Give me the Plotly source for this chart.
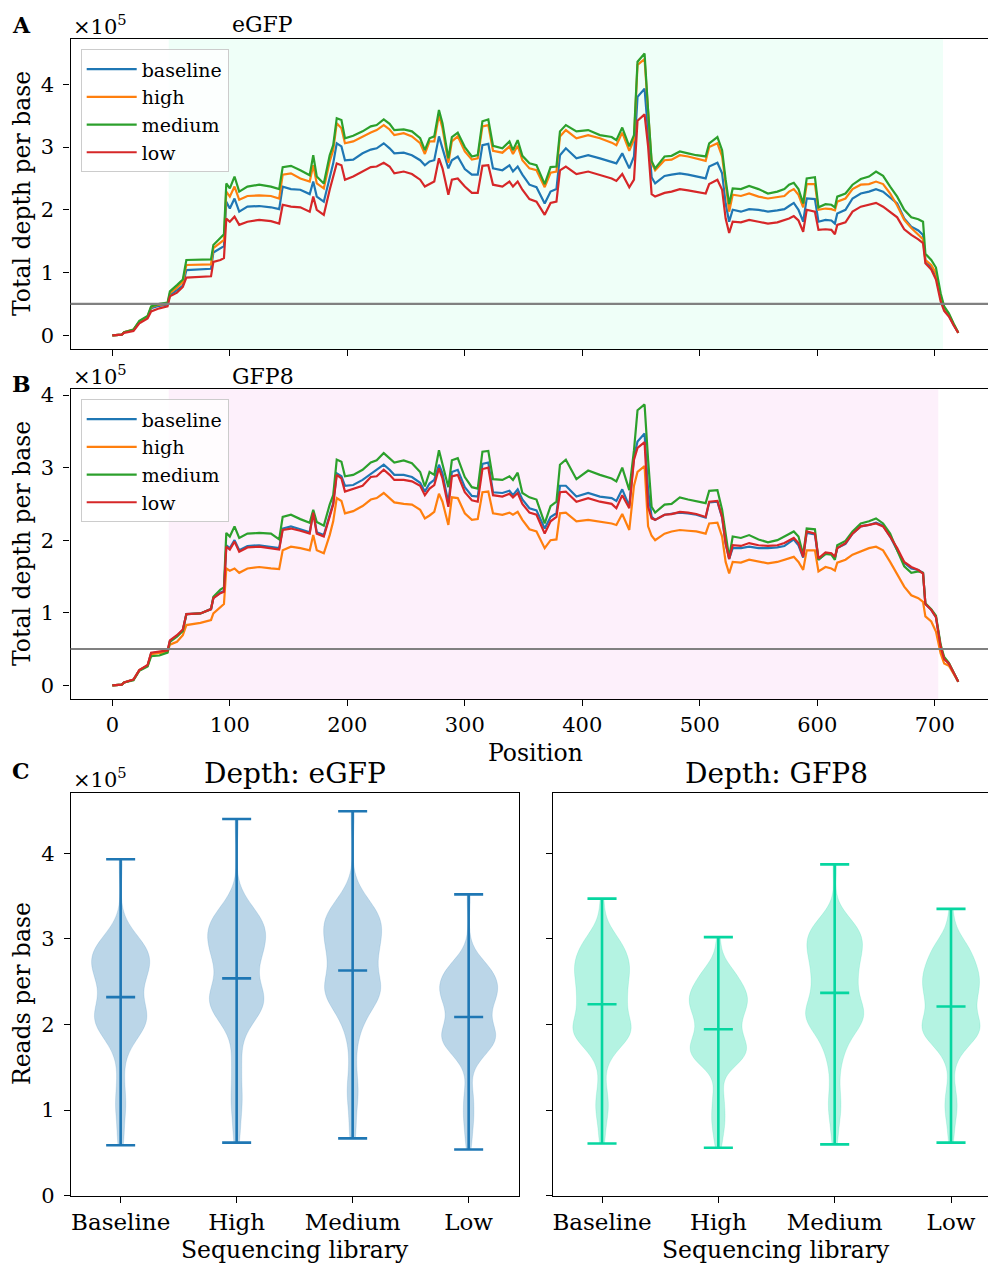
import numpy as np
import plotly.graph_objects as go

# ---------------- data (depth values in units of 1e5 reads) ----------------
POSITIONS = [
    0, 8, 10, 18, 23, 30, 33, 40, 47,
    49, 55, 60, 63, 75, 84, 86, 92, 95, 97,
    100, 104, 108, 115, 125, 135, 142, 145, 152, 160,
    168, 171, 174, 180, 185, 188, 191, 195, 198, 205,
    213, 220, 225, 231, 236, 240, 248, 255, 262, 266,
    270, 274, 278, 281, 286, 289, 294, 300, 306, 311,
    315, 320, 324, 332, 338, 341, 345, 349, 355, 361,
    368, 373, 378, 381, 386, 395, 405, 415, 425, 429,
    434, 440, 444, 447, 453, 456, 459, 462, 470, 476,
    483, 490, 497, 505, 508, 515, 519, 522, 525, 528,
    535, 542, 550, 558, 566, 572, 576, 580, 584, 588,
    591, 598, 601, 607, 612, 615, 617, 624, 630, 637,
    644, 650, 656, 662, 668, 674, 680, 686, 690, 692,
    697, 701, 705, 708, 712, 716, 720]

EGFP_BASELINE = [
    0, 0.01, 0.05, 0.085, 0.21, 0.29, 0.43, 0.47, 0.49,
    0.64, 0.72, 0.79, 1.04, 1.05, 1.06, 1.32, 1.39, 1.42, 2.13,
    2.02, 2.18, 1.97, 2.05, 2.06, 2.04, 2.01, 2.37, 2.33, 2.32,
    2.25, 2.45, 2.21, 2.13, 2.53, 2.74, 3.06, 3.01, 2.79, 2.80,
    2.90, 2.96, 2.98, 3.06, 2.98, 2.90, 2.91, 2.87, 2.79, 2.71,
    2.77, 2.79, 3.17, 2.98, 2.66, 2.79, 2.85, 2.65, 2.56, 2.56,
    3.03, 3.05, 2.66, 2.63, 2.71, 2.61, 2.69, 2.56, 2.40, 2.36,
    2.10, 2.29, 2.33, 2.87, 2.98, 2.82, 2.87, 2.82, 2.77, 2.74,
    2.90, 2.66, 2.85, 3.80, 3.93, 3.27, 2.52, 2.42, 2.54, 2.56,
    2.58, 2.56, 2.53, 2.50, 2.69, 2.75, 2.58, 2.10, 1.81, 2.00,
    1.97, 2.01, 2.00, 1.97, 1.99, 2.01, 2.06, 2.11, 2.00, 1.81,
    2.18, 2.17, 1.81, 1.84, 1.83, 1.78, 1.94, 2.00, 2.18, 2.26,
    2.29, 2.33, 2.29, 2.20, 2.10, 1.86, 1.73, 1.67, 1.60, 1.20,
    1.09, 0.96, 0.59, 0.42, 0.32, 0.17, 0.04]

EGFP_HIGH = [
    0, 0.01, 0.05, 0.09, 0.22, 0.30, 0.45, 0.49, 0.50,
    0.67, 0.76, 0.85, 1.12, 1.13, 1.13, 1.39, 1.48, 1.52, 2.29,
    2.21, 2.37, 2.16, 2.22, 2.23, 2.22, 2.18, 2.56, 2.58, 2.50,
    2.45, 2.71, 2.42, 2.34, 2.77, 2.95, 3.38, 3.30, 3.06, 3.09,
    3.17, 3.23, 3.27, 3.35, 3.28, 3.19, 3.22, 3.17, 3.06, 2.89,
    3.09, 3.09, 3.51, 3.30, 2.75, 3.09, 3.17, 2.93, 2.80, 2.82,
    3.33, 3.35, 2.94, 2.91, 3.01, 2.89, 3.02, 2.79, 2.66, 2.63,
    2.36, 2.59, 2.61, 3.17, 3.27, 3.14, 3.19, 3.14, 3.07, 3.03,
    3.23, 2.94, 3.12, 4.31, 4.40, 3.48, 2.75, 2.63, 2.79, 2.80,
    2.87, 2.85, 2.82, 2.78, 3.00, 3.06, 2.85, 2.37, 1.97, 2.24,
    2.22, 2.26, 2.21, 2.18, 2.20, 2.22, 2.29, 2.33, 2.24, 2.04,
    2.41, 2.41, 2.00, 2.02, 2.01, 1.99, 2.13, 2.18, 2.33, 2.40,
    2.41, 2.45, 2.41, 2.26, 2.07, 1.84, 1.71, 1.61, 1.53, 1.20,
    1.12, 0.99, 0.62, 0.44, 0.33, 0.18, 0.04]

EGFP_MEDIUM = [
    0, 0.01, 0.05, 0.09, 0.23, 0.31, 0.46, 0.50, 0.52,
    0.70, 0.80, 0.89, 1.20, 1.20, 1.21, 1.44, 1.56, 1.61, 2.42,
    2.34, 2.53, 2.29, 2.37, 2.40, 2.37, 2.33, 2.68, 2.70, 2.63,
    2.55, 2.87, 2.53, 2.42, 2.87, 3.03, 3.46, 3.43, 3.14, 3.18,
    3.25, 3.33, 3.35, 3.44, 3.37, 3.27, 3.28, 3.25, 3.14, 2.95,
    3.14, 3.17, 3.59, 3.38, 2.82, 3.16, 3.23, 3.00, 2.85, 2.87,
    3.41, 3.44, 3.02, 2.98, 3.09, 2.95, 3.11, 2.86, 2.74, 2.71,
    2.41, 2.68, 2.69, 3.25, 3.35, 3.25, 3.27, 3.19, 3.16, 3.11,
    3.31, 3.01, 3.19, 4.36, 4.49, 3.59, 2.78, 2.66, 2.85, 2.86,
    2.93, 2.90, 2.87, 2.85, 3.06, 3.16, 2.95, 2.48, 2.09, 2.34,
    2.33, 2.38, 2.33, 2.26, 2.29, 2.33, 2.40, 2.43, 2.33, 2.10,
    2.50, 2.52, 2.04, 2.09, 2.08, 2.04, 2.21, 2.26, 2.40, 2.49,
    2.53, 2.61, 2.54, 2.37, 2.21, 2.00, 1.88, 1.85, 1.81, 1.30,
    1.20, 1.08, 0.67, 0.46, 0.35, 0.19, 0.04]

EGFP_LOW = [
    0, 0.01, 0.04, 0.07, 0.19, 0.27, 0.38, 0.43, 0.46,
    0.62, 0.68, 0.77, 0.92, 0.93, 0.94, 1.17, 1.20, 1.23, 1.86,
    1.81, 1.89, 1.76, 1.81, 1.84, 1.82, 1.78, 2.08, 2.05, 2.04,
    1.97, 2.21, 2.00, 1.92, 2.32, 2.53, 2.74, 2.71, 2.48, 2.53,
    2.61, 2.68, 2.69, 2.75, 2.69, 2.58, 2.61, 2.57, 2.48, 2.37,
    2.41, 2.45, 2.82, 2.66, 2.24, 2.48, 2.50, 2.37, 2.27, 2.27,
    2.70, 2.71, 2.40, 2.37, 2.45, 2.37, 2.45, 2.32, 2.17, 2.13,
    1.92, 2.11, 2.13, 2.63, 2.69, 2.57, 2.61, 2.56, 2.50, 2.46,
    2.57, 2.36, 2.48, 3.42, 3.52, 3.01, 2.25, 2.21, 2.27, 2.29,
    2.33, 2.31, 2.29, 2.26, 2.41, 2.48, 2.32, 1.86, 1.63, 1.81,
    1.80, 1.84, 1.81, 1.78, 1.80, 1.83, 1.86, 1.90, 1.83, 1.65,
    2.00, 1.97, 1.68, 1.69, 1.68, 1.61, 1.76, 1.80, 1.97, 2.05,
    2.08, 2.11, 2.05, 1.97, 1.88, 1.69, 1.60, 1.53, 1.47, 1.15,
    1.05, 0.89, 0.54, 0.39, 0.30, 0.16, 0.04]

GFP8_BASELINE = [
    0, 0.01, 0.04, 0.08, 0.21, 0.27, 0.44, 0.45, 0.47,
    0.61, 0.68, 0.76, 0.98, 0.99, 1.05, 1.20, 1.28, 1.30, 1.93,
    1.89, 2.00, 1.86, 1.92, 1.93, 1.91, 1.89, 2.16, 2.19, 2.15,
    2.11, 2.39, 2.11, 2.07, 2.35, 2.51, 2.92, 2.88, 2.75, 2.76,
    2.83, 2.91, 2.96, 3.04, 2.97, 2.90, 2.90, 2.87, 2.79, 2.67,
    2.78, 2.83, 3.04, 2.92, 2.51, 2.94, 2.97, 2.73, 2.61, 2.60,
    3.05, 3.07, 2.66, 2.65, 2.68, 2.62, 2.70, 2.56, 2.44, 2.41,
    2.16, 2.32, 2.37, 2.75, 2.75, 2.60, 2.65, 2.60, 2.58, 2.54,
    2.70, 2.47, 3.15, 3.36, 3.47, 2.69, 2.32, 2.28, 2.35, 2.36,
    2.38, 2.37, 2.35, 2.31, 2.52, 2.53, 2.31, 1.95, 1.74, 1.89,
    1.89, 1.91, 1.89, 1.89, 1.90, 1.92, 1.96, 2.01, 1.93, 1.76,
    2.10, 2.08, 1.73, 1.81, 1.81, 1.75, 1.89, 1.95, 2.09, 2.19,
    2.21, 2.24, 2.20, 2.05, 1.86, 1.69, 1.61, 1.59, 1.55, 1.12,
    1.04, 0.94, 0.53, 0.37, 0.30, 0.17, 0.05]

GFP8_HIGH = [
    0, 0.01, 0.04, 0.08, 0.21, 0.27, 0.43, 0.44, 0.46,
    0.56, 0.60, 0.69, 0.83, 0.86, 0.90, 0.99, 1.08, 1.12, 1.61,
    1.58, 1.61, 1.55, 1.61, 1.63, 1.61, 1.60, 1.86, 1.91, 1.89,
    1.86, 2.07, 1.86, 1.82, 2.07, 2.26, 2.58, 2.54, 2.37, 2.40,
    2.47, 2.56, 2.58, 2.65, 2.58, 2.52, 2.50, 2.49, 2.42, 2.30,
    2.34, 2.39, 2.64, 2.53, 2.21, 2.59, 2.58, 2.37, 2.28, 2.29,
    2.66, 2.67, 2.37, 2.35, 2.38, 2.35, 2.39, 2.28, 2.15, 2.12,
    1.89, 2.00, 2.01, 2.37, 2.38, 2.26, 2.28, 2.26, 2.23, 2.21,
    2.36, 2.14, 2.75, 2.94, 3.02, 2.19, 2.06, 2.00, 2.09, 2.12,
    2.14, 2.13, 2.12, 2.09, 2.23, 2.24, 2.05, 1.70, 1.54, 1.70,
    1.69, 1.73, 1.70, 1.68, 1.70, 1.73, 1.75, 1.77, 1.70, 1.59,
    1.86, 1.86, 1.57, 1.63, 1.61, 1.58, 1.69, 1.73, 1.80, 1.84,
    1.89, 1.91, 1.86, 1.70, 1.52, 1.36, 1.24, 1.20, 1.15, 0.95,
    0.88, 0.74, 0.44, 0.30, 0.27, 0.16, 0.05]

GFP8_MEDIUM = [
    0, 0.01, 0.04, 0.07, 0.20, 0.26, 0.40, 0.41, 0.45,
    0.60, 0.67, 0.75, 0.98, 0.99, 1.05, 1.22, 1.32, 1.35, 2.10,
    2.05, 2.19, 2.03, 2.09, 2.10, 2.09, 2.01, 2.32, 2.35, 2.29,
    2.24, 2.42, 2.25, 2.20, 2.49, 2.62, 3.11, 3.08, 2.88, 2.90,
    2.97, 3.07, 3.10, 3.20, 3.13, 3.07, 3.10, 3.06, 2.94, 2.74,
    2.94, 2.90, 3.24, 3.06, 2.73, 3.10, 3.13, 2.87, 2.73, 2.71,
    3.22, 3.23, 2.84, 2.83, 2.88, 2.83, 2.93, 2.65, 2.59, 2.56,
    2.23, 2.47, 2.53, 3.04, 3.11, 2.84, 2.96, 2.90, 2.85, 2.81,
    3.00, 2.69, 3.24, 3.79, 3.87, 3.11, 2.46, 2.38, 2.49, 2.50,
    2.59, 2.56, 2.54, 2.51, 2.68, 2.69, 2.42, 2.05, 1.76, 2.05,
    2.03, 2.07, 2.01, 1.97, 2.00, 2.05, 2.09, 2.12, 2.05, 1.80,
    2.16, 2.15, 1.73, 1.81, 1.80, 1.73, 1.93, 1.99, 2.12, 2.23,
    2.26, 2.30, 2.23, 2.09, 1.86, 1.64, 1.55, 1.57, 1.55, 1.13,
    1.05, 0.96, 0.56, 0.39, 0.31, 0.17, 0.05]

GFP8_LOW = [
    0, 0.01, 0.04, 0.08, 0.21, 0.28, 0.45, 0.46, 0.48,
    0.62, 0.69, 0.77, 0.98, 0.99, 1.05, 1.20, 1.27, 1.29, 1.91,
    1.87, 1.98, 1.84, 1.90, 1.91, 1.89, 1.87, 2.14, 2.16, 2.13,
    2.09, 2.38, 2.09, 2.05, 2.32, 2.49, 2.90, 2.85, 2.67, 2.71,
    2.75, 2.87, 2.88, 2.97, 2.90, 2.83, 2.83, 2.81, 2.75, 2.62,
    2.71, 2.76, 2.99, 2.85, 2.46, 2.88, 2.90, 2.66, 2.55, 2.53,
    2.98, 3.00, 2.62, 2.60, 2.64, 2.59, 2.65, 2.50, 2.38, 2.35,
    2.09, 2.26, 2.32, 2.66, 2.67, 2.53, 2.58, 2.53, 2.50, 2.44,
    2.62, 2.44, 3.11, 3.27, 3.35, 2.46, 2.30, 2.28, 2.35, 2.36,
    2.39, 2.38, 2.36, 2.32, 2.53, 2.54, 2.32, 1.96, 1.74, 1.93,
    1.92, 1.96, 1.93, 1.92, 1.93, 1.96, 1.99, 2.03, 1.96, 1.77,
    2.12, 2.09, 1.75, 1.83, 1.82, 1.77, 1.89, 1.96, 2.09, 2.19,
    2.21, 2.23, 2.19, 2.05, 1.89, 1.70, 1.63, 1.59, 1.54, 1.12,
    1.04, 0.94, 0.53, 0.36, 0.30, 0.17, 0.05]

LIBRARIES = ["baseline", "high", "medium", "low"]
LIBRARY_LABELS = ["Baseline", "High", "Medium", "Low"]
EGFP_REGION = (48, 707)
GFP8_REGION = (48, 703)
THRESHOLD = 0.5
POSITION_TICKS = [0, 100, 200, 300, 400, 500, 600, 700]
DEPTH_TICKS = [0, 1, 2, 3, 4]

EGFP_SERIES = [EGFP_BASELINE, EGFP_HIGH, EGFP_MEDIUM, EGFP_LOW]
GFP8_SERIES = [GFP8_BASELINE, GFP8_HIGH, GFP8_MEDIUM, GFP8_LOW]
for s in EGFP_SERIES + GFP8_SERIES:
    assert len(s) == len(POSITIONS)

# ---------------- styling ----------------
W, H = 988, 1264
FONT = "DejaVu Serif, serif"
LINE_COLORS = ["#1f77b4", "#ff7f0e", "#2ca02c", "#d62728"]
EGFP_VIOLIN = "#1f77b4"
GFP8_VIOLIN = "#06d6a0"


def rgba(hex_color, a):
    h = hex_color.lstrip("#")
    r, g, b = int(h[0:2], 16), int(h[2:4], 16), int(h[4:6], 16)
    return f"rgba({r},{g},{b},{a})"


def fx(p):
    return p / W


def fy(p):
    return 1 - p / H


fig = go.Figure()

# ---------------- panels A and B: depth lines ----------------
for series, xa, ya, leg in [(EGFP_SERIES, "x", "y", "legend"),
                            (GFP8_SERIES, "x2", "y2", "legend2")]:
    for name, vals, col in zip(LIBRARIES, series, LINE_COLORS):
        fig.add_trace(go.Scatter(
            x=POSITIONS, y=vals, mode="lines", name=name,
            line=dict(color=col, width=2.2),
            xaxis=xa, yaxis=ya, legend=leg,
            legendgroup=leg + name, hoverinfo="skip"))

# ---------------- panel C: violins ----------------
pos_arr = np.array(POSITIONS, dtype=float)
for series, region, col, xa, ya in [
        (EGFP_SERIES, EGFP_REGION, EGFP_VIOLIN, "x3", "y3"),
        (GFP8_SERIES, GFP8_REGION, GFP8_VIOLIN, "x4", "y4")]:
    lo, hi = region
    mask = (pos_arr >= lo) & (pos_arr <= hi)
    p_in = pos_arr[mask]
    # each reading stands for the stretch of positions around it
    edges = np.concatenate([[lo], (p_in[1:] + p_in[:-1]) / 2, [hi]])
    weights = np.diff(edges)
    cx, cy = [], []
    for i, vals in enumerate(series):
        pos = i + 1
        samples = np.array(vals, dtype=float)[mask]
        bw = float(np.std(samples)) * (hi - lo) ** (-0.2)
        fig.add_trace(go.Violin(
            x0=pos, y=samples, xaxis=xa, yaxis=ya,
            width=0.5, scalemode="width", spanmode="hard", bandwidth=bw,
            fillcolor=rgba(col, 0.3), line=dict(color=rgba(col, 0.3), width=0.5),
            points=False, showlegend=False, hoverinfo="skip", opacity=1))
        vmin, vmax = samples.min(), samples.max()
        vmean = np.average(samples, weights=weights)
        cx += [pos, pos, None]
        cy += [vmin, vmax, None]
        for yv in (vmin, vmax, vmean):
            cx += [pos - 0.125, pos + 0.125, None]
            cy += [yv, yv, None]
    fig.add_trace(go.Scatter(x=cx, y=cy, mode="lines", xaxis=xa, yaxis=ya,
                             line=dict(color=col, width=2.6),
                             showlegend=False, hoverinfo="skip"))

# ---------------- axes ----------------
axis_common = dict(showgrid=False, zeroline=False, showline=True,
                   linecolor="black", linewidth=1.3, ticks="outside",
                   ticklen=6, tickwidth=1.3, tickcolor="black", automargin=False,
                   tickfont=dict(family=FONT, size=21, color="black"))
cat_font = dict(family=FONT, size=23, color="black")

layout_axes = dict(
    xaxis=dict(axis_common, domain=[fx(70.5), 1], range=[-35.6, 745.3],
               tickvals=POSITION_TICKS, showticklabels=False, mirror=True,
               anchor="y"),
    yaxis=dict(axis_common, domain=[fy(349.3), fy(39.3)], range=[-0.223, 4.717],
               tickvals=DEPTH_TICKS, anchor="x", ticklabelstandoff=5),
    xaxis2=dict(axis_common, domain=[fx(70.5), 1], range=[-35.6, 745.3],
                tickvals=POSITION_TICKS, mirror=True, anchor="y2",
                ticklabelstandoff=0),
    yaxis2=dict(axis_common, domain=[fy(699.3), fy(389.3)], range=[-0.193, 4.079],
                tickvals=DEPTH_TICKS, anchor="x2", ticklabelstandoff=5),
    xaxis3=dict(axis_common, domain=[fx(71), fx(519)], range=[0.572, 4.434],
                tickvals=[1, 2, 3, 4], ticktext=LIBRARY_LABELS, mirror=True,
                anchor="y3", tickfont=cat_font, ticklabelstandoff=0),
    yaxis3=dict(axis_common, domain=[fy(1195.7), fy(793.3)], range=[0, 4.70],
                tickvals=DEPTH_TICKS, mirror=True, anchor="x3",
                ticklabelstandoff=5),
    xaxis4=dict(axis_common, domain=[fx(552.7), 1], range=[0.576, 4.318],
                tickvals=[1, 2, 3, 4], ticktext=LIBRARY_LABELS, mirror=True,
                anchor="y4", tickfont=cat_font, ticklabelstandoff=0),
    yaxis4=dict(axis_common, domain=[fy(1195.7), fy(793.3)], range=[0, 4.70],
                tickvals=DEPTH_TICKS, showticklabels=False, anchor="x4"),
)

# ---------------- shapes ----------------
shapes = [
    dict(type="rect", xref="x", yref="y domain", x0=EGFP_REGION[0], x1=EGFP_REGION[1],
         y0=0, y1=1, fillcolor="#effff8", line=dict(width=0), layer="below"),
    dict(type="rect", xref="x2", yref="y2 domain", x0=GFP8_REGION[0], x1=GFP8_REGION[1],
         y0=0, y1=1, fillcolor="#fdf0fb", line=dict(width=0), layer="below"),
    dict(type="line", xref="x domain", yref="y", x0=0, x1=1, y0=THRESHOLD, y1=THRESHOLD,
         line=dict(color="#808080", width=2.2), layer="above"),
    dict(type="line", xref="x2 domain", yref="y2", x0=0, x1=1, y0=THRESHOLD, y1=THRESHOLD,
         line=dict(color="#808080", width=2.2), layer="above"),
]


# ---------------- annotations ----------------
def ann(text, x, y, size=22, angle=0, xanchor="center", bold=False):
    if bold:
        text = f"<b>{text}</b>"
    return dict(text=text, x=fx(x), y=fy(y), xref="paper", yref="paper",
                xanchor=xanchor, yanchor="middle", showarrow=False,
                textangle=angle, font=dict(family=FONT, size=size, color="black"))


annotations = [
    ann("A", 21, 25, size=22, bold=True),
    ann("B", 21, 384, size=22, bold=True),
    ann("C", 21, 771, size=22, bold=True),
    ann("×10<sup>5</sup>", 71, 25, size=21, xanchor="left"),
    ann("×10<sup>5</sup>", 71, 375, size=21, xanchor="left"),
    ann("×10<sup>5</sup>", 71, 778, size=21, xanchor="left"),
    ann("eGFP", 262, 25, size=22),
    ann("GFP8", 263, 376, size=22),
    ann("Total depth per base", 22, 194, size=23.5, angle=-90),
    ann("Total depth per base", 22, 544, size=23.5, angle=-90),
    ann("Position", 535, 753, size=23.5),
    ann("Depth: eGFP", 295, 773, size=28),
    ann("Depth: GFP8", 776, 773, size=28),
    ann("Reads per base", 22, 994, size=23.5, angle=-90),
    ann("Sequencing library", 295, 1250, size=23.5),
    ann("Sequencing library", 776, 1250, size=23.5),
]

legend_common = dict(xanchor="left", yanchor="top", bgcolor="rgba(255,255,255,0.8)",
                     bordercolor="#cccccc", borderwidth=1, tracegroupgap=0,
                     itemwidth=50,
                     font=dict(family=FONT, size=19, color="black"))

fig.update_layout(
    width=W, height=H, autosize=False,
    margin=dict(l=0, r=0, t=0, b=0, pad=0, autoexpand=False),
    paper_bgcolor="white", plot_bgcolor="white",
    violinmode="overlay", violingap=0, violingroupgap=0,
    showlegend=True,
    legend=dict(legend_common, x=fx(80.7), y=fy(49.3)),
    legend2=dict(legend_common, x=fx(80.7), y=fy(399.3)),
    shapes=shapes, annotations=annotations,
    font=dict(family=FONT, color="black"),
    **layout_axes,
)

fig.write_html("out.html",
               config={"displayModeBar": False},
               post_script="document.body.style.margin='0';"
                           "document.body.style.padding='0';")
